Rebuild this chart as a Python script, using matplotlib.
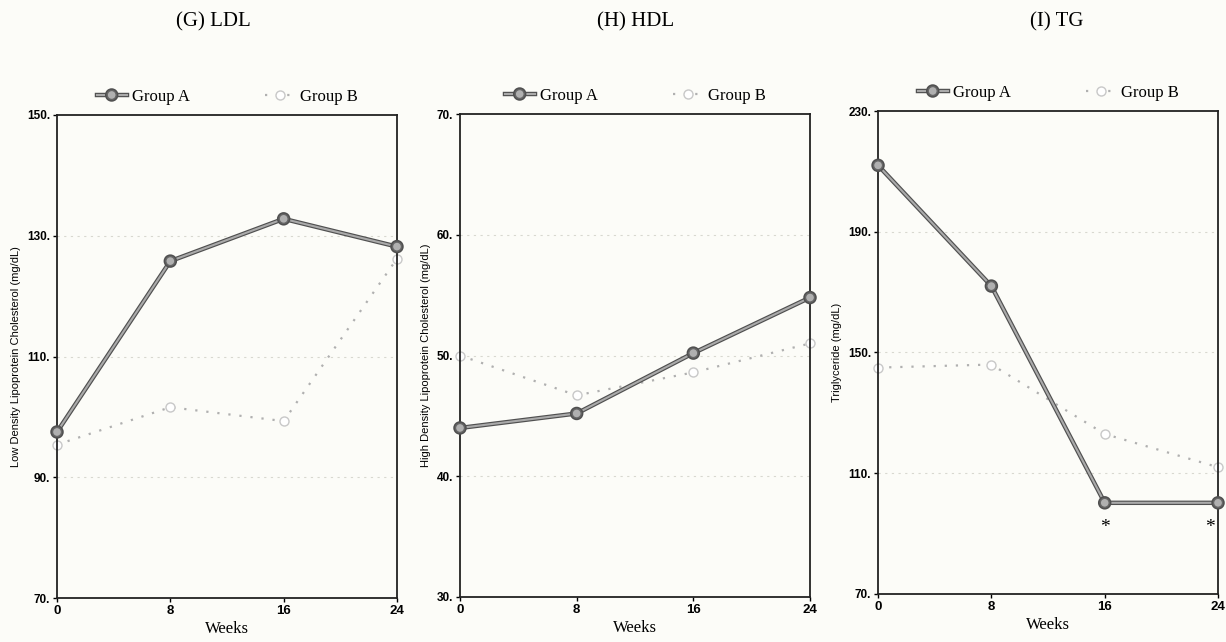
import matplotlib
matplotlib.use("Agg")
from matplotlib import pyplot
import matplotlib.patheffects as pe

weeks = [0, 8, 16, 24]

ldl_a = [97.5, 125.8, 132.8, 128.2]
ldl_b = [95.4, 101.6, 99.3, 126.2]
hdl_a = [44.0, 45.2, 50.2, 54.8]
hdl_b = [50.0, 46.7, 48.6, 51.0]
tg_a = [212.0, 172.0, 100.2, 100.2]
tg_b = [145.0, 146.0, 123.0, 112.0]
tg_star_weeks = [16, 24]

panels = [
 ("(G) LDL", 0.174, "Low Density Lipoprotein Cholesterol (mg/dL)", ldl_a, ldl_b, (70, 150), [70, 90, 110, 130, 150],
  [0.0465, 0.0685, 0.2773, 0.7524]),
 ("(H) HDL", 0.518, "High Density Lipoprotein Cholesterol (mg/dL)", hdl_a, hdl_b, (30, 70), [30, 40, 50, 60, 70],
  [0.3752, 0.0701, 0.2855, 0.7523]),
 ("(I) TG", 0.862, "Triglyceride (mg/dL)", tg_a, tg_b, (70, 230), [70, 110, 150, 190, 230],
  [0.7162, 0.0748, 0.2773, 0.7523]),
]

bg = '#fcfcf8'
serif = ['Liberation Serif', 'DejaVu Serif']
sans = ['Liberation Sans', 'DejaVu Sans']

fig = pyplot.figure(figsize=(12.26, 6.42), dpi=100, facecolor=bg)

for title, tx, ylabel, a, b, ylim, yticks, rect in panels:
 ax = fig.add_axes(rect, facecolor=bg)
 for t in yticks[1:-1]:
  ax.axhline(t, color='#d8d8d0', linewidth=0.8, linestyle=(0, (2, 4)), zorder=0)
 lb, = ax.plot(weeks, b, color='#b0b0b0', linewidth=1.6, linestyle=(0, (1, 4)),
  marker='o', markersize=6.5, markerfacecolor='white', markeredgecolor='#c8c8c8',
  clip_on=False, zorder=2, label='Group B')
 la, = ax.plot(weeks, a, color='#aaaaaa', linewidth=1.5,
  marker='o', markersize=6.5, markerfacecolor='#b0b0b0', markeredgecolor='#666666',
  clip_on=False, zorder=3, label='Group A',
  path_effects=[pe.Stroke(linewidth=3.2, foreground='#505050'), pe.Normal()])
 ax.set_xlim(0, 24)
 ax.set_ylim(*ylim)
 ax.set_xticks(weeks)
 ax.set_xticklabels([str(w) for w in weeks], fontfamily=sans, fontsize=9.5, fontweight='bold')
 ax.set_yticks(yticks)
 ax.set_yticklabels([f"{t}." for t in yticks], fontfamily=sans, fontsize=8.5, fontweight='bold')
 ax.tick_params(direction='out', length=3, width=1, pad=2)
 for s in ax.spines.values():
  s.set_linewidth(1.3)
  s.set_color('#222222')
 ax.set_ylabel(ylabel, fontfamily=sans, fontsize=8, labelpad=4)
 ax.set_xlabel("Weeks", fontfamily=serif, fontsize=12, labelpad=3)
 fig.text(tx, 1 - 22 / 642, title, ha='center', va='center', fontfamily=serif, fontsize=15)
 ax.legend(handles=[la, lb], loc='lower center', bbox_to_anchor=(0.5, 0.99), ncol=2,
  frameon=False, prop={'family': serif, 'size': 12}, handlelength=1.8, columnspacing=4.5,
  handletextpad=0.3)
 if title == "(I) TG":
  for w in tg_star_weeks:
   v = a[weeks.index(w)]
   ax.annotate('*', (w, v), xytext=(-6 if w == 24 else 0, -18), textcoords='offset points',
    ha='center', va='center', fontsize=14, fontfamily=serif, annotation_clip=False)

fig.savefig('out.png', dpi=100, facecolor=bg)
